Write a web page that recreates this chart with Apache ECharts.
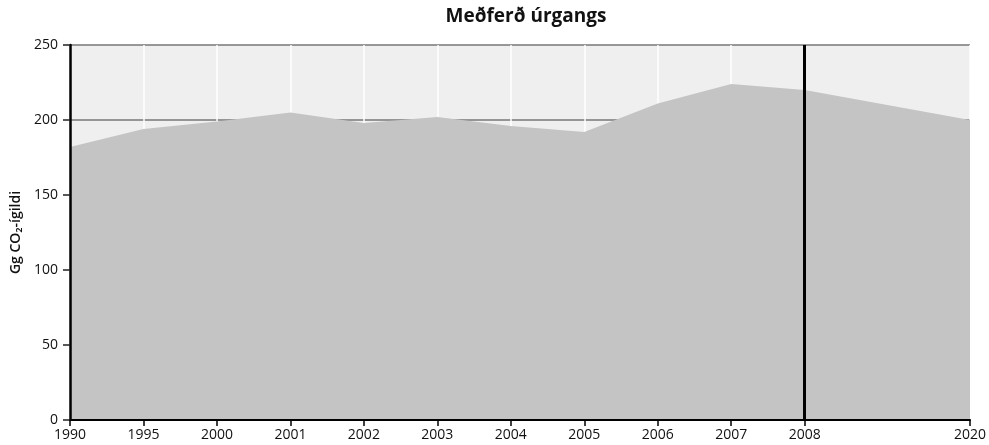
<!DOCTYPE html>
<html>
<head>
<meta charset="utf-8">
<script src="https://cdn.jsdelivr.net/npm/echarts@6/dist/echarts.min.js"></script>
<style>
  html, body { margin: 0; padding: 0; background: #fff; }
  #chart { width: 989px; height: 445px; }
</style>
</head>
<body>
<div id="chart"></div>
<script>
// gögn lesin af myndinni
const years = ['1990', '1995', '2000', '2001', '2002', '2003', '2004', '2005', '2006', '2007', '2008', '2020']
const values = [182, 194, 199, 205, 198, 202, 196, 192, 211, 224, 220, 200]
const yTicks = [0, 50, 100, 150, 200, 250]
const markYear = '2008'

// bil á ásnum: hvert ár tekur 4 reiti, síðasta bilið (2008-2020) er lengra
const slotsPerStep = 4
const lastGapSlots = 9

let categories = []
let seriesData = []
years.forEach(function (y, i) {
  categories.push(y)
  seriesData.push(values[i])
  if (i < years.length - 1) {
    let gap = (i === years.length - 2) ? lastGapSlots : slotsPerStep
    for (let k = 1; k < gap; k++) {
      categories.push('')
      seriesData.push('-')
    }
  }
})

const isYear = function (idx, val) { return val !== '' }
const font = '"Open Sans", sans-serif'

// tveir eins ásar: annar undir svæðinu (hnitalínur), hinn ofan á (ás, merki, tölur)
const xBase = {
  type: 'category',
  data: categories,
  boundaryGap: false
}
const yBase = {
  type: 'value',
  min: yTicks[0],
  max: yTicks[yTicks.length - 1],
  interval: 50
}

let chart = echarts.init(document.getElementById('chart'))
chart.setOption({
  animation: false,
  title: {
    text: 'Meðferð úrgangs',
    left: 521,
    textAlign: 'center',
    top: 2,
    textStyle: { fontFamily: font, fontSize: 19, fontWeight: 'bold', color: '#111' }
  },
  grid: {
    left: 70, right: 17, top: 45, bottom: 25,
    show: true,
    backgroundColor: '#efefef',
    borderWidth: 0
  },
  xAxis: [
    Object.assign({}, xBase, {
      axisLine: { show: false },
      axisTick: { show: false },
      axisLabel: { show: false },
      splitLine: { show: true, interval: isYear, lineStyle: { color: '#fff', width: 1.5 } }
    }),
    Object.assign({}, xBase, {
      position: 'bottom',
      z: 10,
      axisLine: { lineStyle: { color: '#000', width: 2 } },
      axisTick: { interval: isYear, length: 6, lineStyle: { color: '#000', width: 1.5 } },
      axisLabel: { interval: isYear, color: '#111', fontFamily: font, fontSize: 14, margin: 8 },
      splitLine: { show: false }
    })
  ],
  yAxis: [
    Object.assign({}, yBase, {
      axisLine: { show: false },
      axisTick: { show: false },
      axisLabel: { show: false },
      splitLine: { show: true, lineStyle: { color: '#777', width: 1.5 } }
    }),
    Object.assign({}, yBase, {
      position: 'left',
      z: 10,
      name: 'Gg CO₂-ígildi',
      nameLocation: 'middle',
      nameRotate: 90,
      nameGap: 46,
      nameTextStyle: { fontFamily: font, fontSize: 14, fontWeight: 600, color: '#111' },
      axisLine: { show: true, lineStyle: { color: '#000', width: 2.5 } },
      axisTick: { show: true, length: 7, lineStyle: { color: '#222', width: 1.5 } },
      axisLabel: { color: '#111', fontFamily: font, fontSize: 14, margin: 12 },
      splitLine: { show: false }
    })
  ],
  series: [
    {
      type: 'line',
      data: seriesData,
      connectNulls: true,
      symbol: 'none',
      lineStyle: { width: 0 },
      areaStyle: { color: '#c4c4c4', opacity: 1 },
      markLine: {
        silent: true,
        symbol: 'none',
        label: { show: false },
        lineStyle: { color: '#000', width: 3, type: 'solid' },
        data: [{ xAxis: markYear }]
      }
    }
  ]
})
</script>
</body>
</html>
